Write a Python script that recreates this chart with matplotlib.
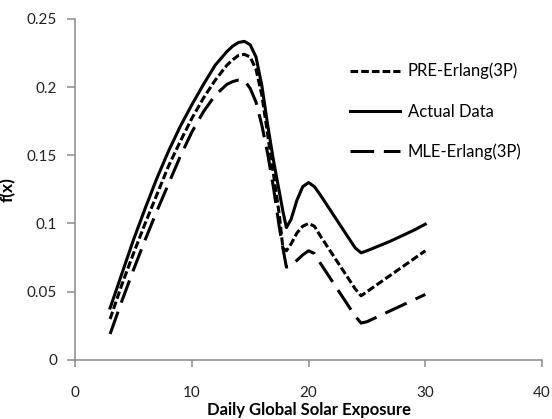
import numpy as np
import matplotlib
matplotlib.use("Agg")
import matplotlib.pyplot as plt

plt.rcParams['font.family'] = ['Lato', 'DejaVu Sans']
plt.rcParams['lines.scale_dashes'] = False

# datos
x = [3, 4, 5, 6, 7, 8, 9, 10, 11, 12, 13, 13.5, 14, 14.5, 15, 15.5, 16, 16.5, 17,
     17.5, 17.8, 18.1, 18.5, 19, 19.5, 20, 20.5, 21, 22, 23, 24, 24.5, 25,
     26, 27, 28, 29, 30]

actual = [0.038, 0.063, 0.088, 0.111, 0.133, 0.153, 0.171, 0.187, 0.202, 0.216,
          0.226, 0.230, 0.2327, 0.2335, 0.231, 0.222, 0.201, 0.172, 0.146, 0.123, 0.109,
          0.097, 0.103, 0.117, 0.127, 0.130, 0.127, 0.121, 0.108, 0.095, 0.082,
          0.0785, 0.080, 0.0835, 0.087, 0.091, 0.095, 0.0995]

pre = [0.030, 0.055, 0.078, 0.100, 0.121, 0.142, 0.160, 0.177, 0.192, 0.205,
       0.216, 0.220, 0.2232, 0.224, 0.222, 0.213, 0.194, 0.165, 0.136, 0.106, 0.082,
       0.080, 0.085, 0.093, 0.098, 0.100, 0.098, 0.091, 0.078, 0.065, 0.052,
       0.047, 0.050, 0.056, 0.062, 0.068, 0.074, 0.080]

mle = [0.019, 0.043, 0.066, 0.088, 0.109, 0.129, 0.149, 0.167, 0.182, 0.194,
       0.202, 0.204, 0.2052, 0.205, 0.199, 0.189, 0.172, 0.151, 0.126, 0.097, 0.082,
       0.068, 0.069, 0.073, 0.077, 0.080, 0.078, 0.071, 0.058, 0.045, 0.032,
       0.027, 0.028, 0.032, 0.036, 0.040, 0.044, 0.048]

yticks = [0, 0.05, 0.1, 0.15, 0.2, 0.25]
ytick_labels = ["0", "0.05", "0.1", "0.15", "0.2", "0.25"]
xticks = [0, 10, 20, 30, 40]

fig = plt.figure(figsize=(5.52, 4.19), dpi=100)
ax = fig.add_axes([0.136, 0.141, 0.846, 0.814])

estilo = dict(color="black", lw=2.2, solid_joinstyle="round", dash_joinstyle="round")
ax.plot(x, pre, ls=(0, (5.5, 2.2)), label="PRE-Erlang(3P)", **estilo)
ax.plot(x, actual, label="Actual Data", **estilo)
ax.plot(x, mle, ls=(0, (17, 7)), label="MLE-Erlang(3P)", **estilo)

ax.set_xlim(0, 40)
ax.set_ylim(0, 0.25)
ax.set_xticks(xticks)
ax.set_xticklabels([str(t) for t in xticks])
ax.set_yticks(yticks)
ax.set_yticklabels(ytick_labels)

for s in ["top", "right"]:
    ax.spines[s].set_visible(False)
for s in ["left", "bottom"]:
    ax.spines[s].set_color("#8c8c8c")
    ax.spines[s].set_linewidth(1.1)

ax.tick_params(axis="x", direction="out", length=5, width=1.1, color="#8c8c8c",
               labelsize=11, labelcolor="#222222", pad=14)
ax.tick_params(axis="y", direction="out", length=6, width=1.1, color="#8c8c8c",
               labelsize=11, labelcolor="#222222", pad=7)

ax.set_xlabel("Daily Global Solar Exposure", fontsize=12, fontweight="bold", labelpad=1)
ax.set_ylabel("f(x)", fontsize=12.5, fontweight="bold", labelpad=8)

ax.legend(loc="upper left", bbox_to_anchor=(0.557, 0.915), frameon=False, fontsize=12,
          handlelength=3.0, handletextpad=0.45, labelspacing=1.45)

fig.savefig("out.png", dpi=100)
